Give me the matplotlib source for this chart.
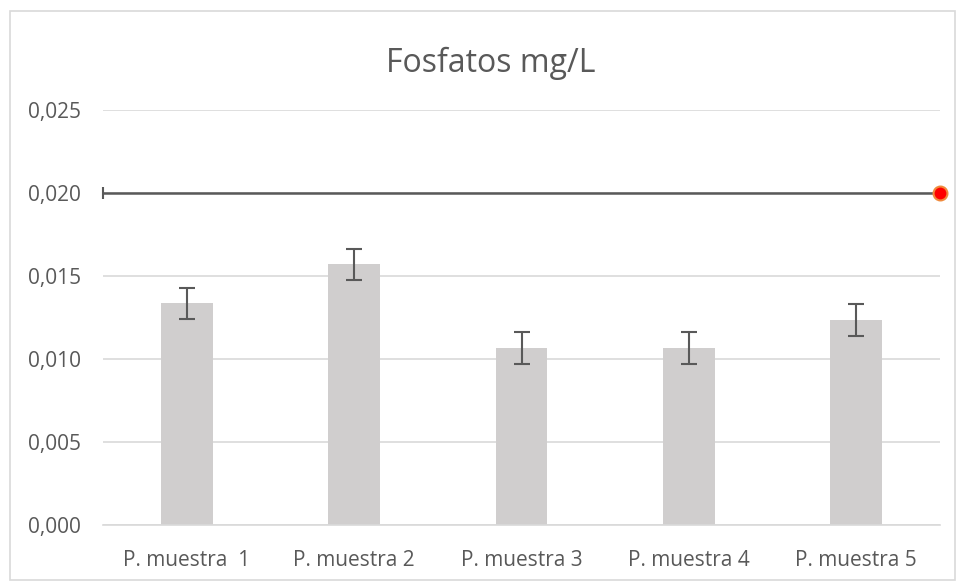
import matplotlib
matplotlib.use("Agg")
import matplotlib.pyplot as plt
from matplotlib.patches import Rectangle

categories = ["P. muestra  1", "P. muestra 2", "P. muestra 3", "P. muestra 4", "P. muestra 5"]
values = [0.01336, 0.0157, 0.01066, 0.01066, 0.01235]
errors = [0.00094, 0.00094, 0.00094, 0.00094, 0.00094]
limit_value = 0.020
yticks = [0.000, 0.005, 0.010, 0.015, 0.020, 0.025]
ytick_labels = ["0,000", "0,005", "0,010", "0,015", "0,020", "0,025"]

plt.rcParams['font.family'] = ['Open Sans', 'DejaVu Sans']
W, H = 956, 581
fig = plt.figure(figsize=(W/100, H/100), dpi=100)
ax = fig.add_axes([103/W, 1-525/H, (940-103)/W, (525-110)/H])

x = list(range(len(categories)))
ax.bar(x, values, width=0.31, color="#D0CECE", zorder=2)
ax.errorbar(x, values, yerr=errors, fmt='none', ecolor="#595959", elinewidth=1.5,
            capsize=6, capthick=1.5, zorder=3)

ax.plot([-0.5, 4.5], [limit_value, limit_value], color="#595959", lw=1.8, zorder=4, clip_on=False)
ax.plot([-0.5], [limit_value], marker='|', color="#595959", markersize=8, mew=1.5, clip_on=False, zorder=4)
ax.plot([4.5], [limit_value], marker='o', markersize=10, markerfacecolor="#FF0000",
        markeredgecolor="#F08A3C", mew=1.5, clip_on=False, zorder=5)

ax.set_xlim(-0.5, 4.5)
ax.set_ylim(0, 0.025)
ax.set_yticks(yticks)
ax.set_yticklabels(ytick_labels)
ax.set_xticks(x)
ax.set_xticklabels(categories)
ax.grid(axis='y', color="#D9D9D9", lw=1.2, zorder=0)
ax.set_axisbelow(True)
for s in ax.spines.values():
    s.set_visible(False)
ax.spines['bottom'].set_visible(True)
ax.spines['bottom'].set_color("#D9D9D9")
ax.spines['bottom'].set_linewidth(1.2)
ax.tick_params(axis='both', length=0, labelsize=15, labelcolor="#595959")
ax.tick_params(axis='y', pad=15.8)
ax.tick_params(axis='x', pad=18)

fig.text(491/W, 1-63/H, "Fosfatos mg/L", ha='center', va='center', fontsize=23, color="#595959")
fig.patches.append(Rectangle((10/W, 1-580/H), 945/W, 569/H, transform=fig.transFigure,
                             fill=False, edgecolor="#D9D9D9", lw=1.2))

fig.savefig("out.png", dpi=100)
